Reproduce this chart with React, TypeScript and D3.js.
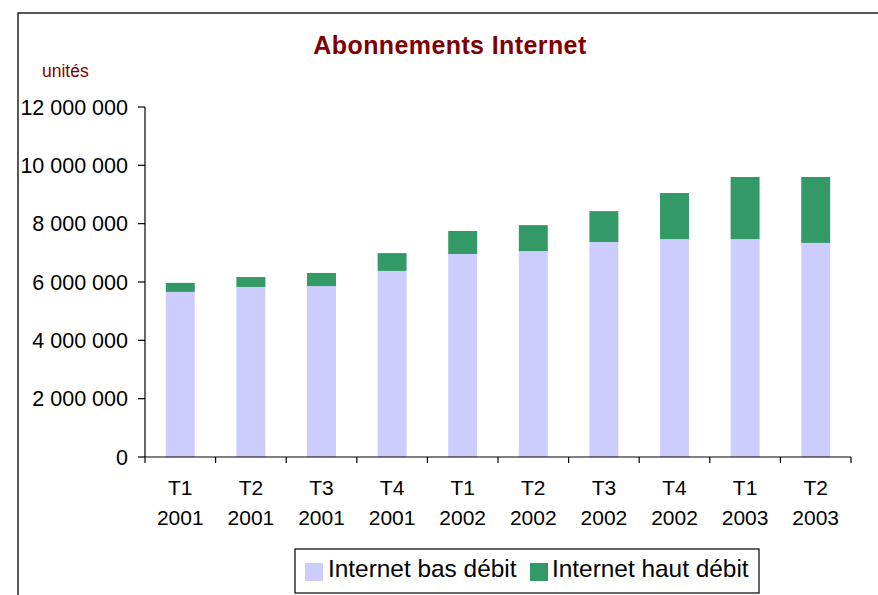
import React from "react";
import { scaleBand, scaleLinear, stack } from "d3";

const quarters = ["T1", "T2", "T3", "T4", "T1", "T2", "T3", "T4", "T1", "T2"];
const years = ["2001", "2001", "2001", "2001", "2002", "2002", "2002", "2002", "2003", "2003"];
const basDebit = [5660000, 5830000, 5860000, 6380000, 6960000, 7060000, 7370000, 7470000, 7470000, 7340000];
const hautDebit = [310000, 340000, 450000, 610000, 790000, 890000, 1060000, 1580000, 2130000, 2260000];
const yTicks = [0, 2000000, 4000000, 6000000, 8000000, 10000000, 12000000];
const seriesNames = ["Internet bas débit", "Internet haut débit"];
const seriesColors = ["#CCCCFF", "#339966"];

const font = "'Liberation Sans', Arial, sans-serif";

// 12 000 000 style labels
const fmt = (v: number) => String(v).replace(/\B(?=(\d{3})+(?!\d))/g, " ");

export default function App() {
  const width = 878;
  const height = 595;
  const left = 145;
  const right = 851;
  const top = 107;
  const bottom = 457;

  const keys = quarters.map((q, i) => `${q} ${years[i]} ${i}`);
  const rows = keys.map((k, i) => ({ key: k, bas: basDebit[i], haut: hautDebit[i] }));

  const x = scaleBand<string>()
    .domain(keys)
    .range([left, right])
    .paddingInner(0.59)
    .paddingOuter(0.295);
  const y = scaleLinear().domain([0, 12000000]).range([bottom, top]);

  const layers = stack<any>().keys(["bas", "haut"])(rows);
  const step = x.step();
  const bw = x.bandwidth();
  const gap = (step - bw) / 2;
  const bounds = keys.map((k) => (x(k) as number) - gap).concat([right]);

  return (
    <svg
      width={width}
      height={height}
      style={{ position: "absolute", left: 0, top: 0, background: "#fff" }}
      fontFamily={font}
    >
      {/* chart frame, runs past right/bottom edges */}
      <rect x={18} y={13} width={900} height={620} fill="none" stroke="#222" strokeWidth={1.5} />

      <text x={450} y={54} textAnchor="middle" fontSize={25} fontWeight="bold" fill="#800000" letterSpacing={0.4}>
        Abonnements Internet
      </text>
      <text x={42} y={77} fontSize={17.5} fill="#800000">
        unités
      </text>

      {layers.map((layer, li) =>
        layer.map((d, i) => (
          <rect
            key={`${li}-${i}`}
            x={x(keys[i])}
            y={y(d[1])}
            width={bw}
            height={y(d[0]) - y(d[1])}
            fill={seriesColors[li]}
          />
        ))
      )}

      {/* y axis */}
      <line x1={left} x2={left} y1={top} y2={bottom} stroke="#000" strokeWidth={1.2} />
      {yTicks.map((t) => (
        <g key={t}>
          <line x1={left - 7} x2={left} y1={y(t)} y2={y(t)} stroke="#000" strokeWidth={1.2} />
          <text x={128} y={y(t)} dy="0.36em" textAnchor="end" fontSize={21.5} fill="#000">
            {fmt(t)}
          </text>
        </g>
      ))}

      {/* x axis */}
      <line x1={left} x2={right} y1={bottom} y2={bottom} stroke="#000" strokeWidth={1.2} />
      {bounds.map((b, i) => (
        <line key={i} x1={b} x2={b} y1={bottom} y2={bottom + 6} stroke="#000" strokeWidth={1.2} />
      ))}
      {keys.map((k, i) => (
        <text key={k} x={(x(k) as number) + bw / 2} textAnchor="middle" fontSize={21} fill="#000">
          <tspan x={(x(k) as number) + bw / 2} y={495}>{quarters[i]}</tspan>
          <tspan x={(x(k) as number) + bw / 2} y={525}>{years[i]}</tspan>
        </text>
      ))}

      {/* legend */}
      <rect x={295} y={549} width={464} height={44} fill="#fff" stroke="#000" strokeWidth={1.2} />
      <rect x={305} y={563} width={18} height={18} fill={seriesColors[0]} />
      <text x={328} y={577} fontSize={24.4} fill="#000">{seriesNames[0]}</text>
      <rect x={530} y={563} width={18} height={18} fill={seriesColors[1]} />
      <text x={552} y={577} fontSize={24.4} fill="#000">{seriesNames[1]}</text>
    </svg>
  );
}
